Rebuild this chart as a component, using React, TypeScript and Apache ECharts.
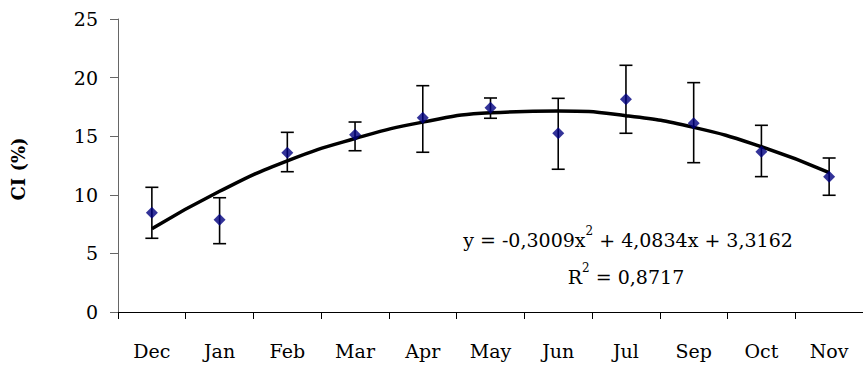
import React, { useEffect, useRef } from "react";
import * as echarts from "echarts";

const months = ["Dec", "Jan", "Feb", "Mar", "Apr", "May", "Jun", "Jul", "Sep", "Oct", "Nov"];
const ciMean = [8.47, 7.88, 13.59, 15.13, 16.58, 17.43, 15.25, 18.15, 16.1, 13.68, 11.55];
const ciHigh = [10.64, 9.75, 15.33, 16.21, 19.31, 18.26, 18.23, 21.05, 19.57, 15.93, 13.14];
const ciLow = [6.29, 5.83, 11.97, 13.76, 13.63, 16.53, 12.18, 15.25, 12.74, 11.55, 9.96];
const trend = [7.1, 10.3, 12.9, 14.8, 16.2, 17.0, 17.15, 16.75, 15.75, 14.1, 11.9];
const yTicks = { min: 0, max: 25, interval: 5 };

const FONT = "'DejaVu Serif', 'Liberation Serif', serif";

export default function App() {
  const ref = useRef<HTMLDivElement>(null);
  useEffect(() => {
    if (!ref.current) return;
    const chart = echarts.init(ref.current, undefined, { renderer: "svg" });
    const errData = months.map((_, i) => [i, ciLow[i], ciHigh[i]]);
    const rich = {
      b: { fontSize: 19, fontFamily: FONT, fill: "#000", lineHeight: 24, verticalAlign: "bottom" },
      s: { fontSize: 12, fontFamily: FONT, fill: "#000", lineHeight: 17, verticalAlign: "top" },
    };
    chart.setOption({
      animation: false,
      backgroundColor: "#fff",
      grid: { left: 118, top: 19, height: 293, width: 751, containLabel: false },
      xAxis: {
        type: "category",
        data: months,
        boundaryGap: true,
        axisLine: { lineStyle: { color: "#000", width: 1 } },
        axisTick: { show: true, length: 7, lineStyle: { color: "#000" } },
        axisLabel: { color: "#000", fontSize: 19, fontFamily: FONT, margin: 29 },
        splitLine: { show: false },
      },
      yAxis: {
        type: "value",
        min: yTicks.min,
        max: yTicks.max,
        interval: yTicks.interval,
        axisLine: { show: true, lineStyle: { color: "#666", width: 1 } },
        axisTick: { show: true, length: 8, lineStyle: { color: "#666" } },
        axisLabel: { color: "#000", fontSize: 19, fontFamily: FONT, margin: 20 },
        splitLine: { show: false },
      },
      graphic: [
        {
          type: "text",
          x: 18,
          y: 169,
          rotation: Math.PI / 2,
          style: {
            text: "CI (%)",
            font: `bold 18px ${FONT}`,
            fill: "#000",
            align: "center",
            verticalAlign: "middle",
          },
        },
        {
          type: "text",
          x: 628,
          y: 237,
          style: {
            text: "{b|y = -0,3009x}{s|2}{b| + 4,0834x + 3,3162}",
            align: "center",
            verticalAlign: "middle",
            rich,
          },
        },
        {
          type: "text",
          x: 626,
          y: 274,
          style: {
            text: "{b|R}{s|2}{b| = 0,8717}",
            align: "center",
            verticalAlign: "middle",
            rich,
          },
        },
      ],
      series: [
        {
          type: "line",
          data: trend,
          smooth: true,
          showSymbol: false,
          symbol: "none",
          lineStyle: { color: "#000", width: 3.5 },
          z: 2,
        },
        {
          type: "custom",
          data: errData,
          z: 3,
          renderItem: (params: any, api: any) => {
            const i = api.value(0);
            const lo = api.coord([i, api.value(1)]);
            const hi = api.coord([i, api.value(2)]);
            const cap = 6.5;
            const style = { stroke: "#000", lineWidth: 1.6 };
            return {
              type: "group",
              children: [
                { type: "line", shape: { x1: hi[0], y1: hi[1], x2: lo[0], y2: lo[1] }, style },
                { type: "line", shape: { x1: hi[0] - cap, y1: hi[1], x2: hi[0] + cap, y2: hi[1] }, style },
                { type: "line", shape: { x1: lo[0] - cap, y1: lo[1], x2: lo[0] + cap, y2: lo[1] }, style },
              ],
            };
          },
        },
        {
          type: "scatter",
          data: ciMean,
          symbol: "diamond",
          symbolSize: 12,
          itemStyle: { color: "#000080" },
          z: 4,
        },
      ],
    });
    return () => chart.dispose();
  }, []);
  return (
    <div
      ref={ref}
      style={{ position: "absolute", left: 0, top: 0, width: 863, height: 365, background: "#fff" }}
    />
  );
}
